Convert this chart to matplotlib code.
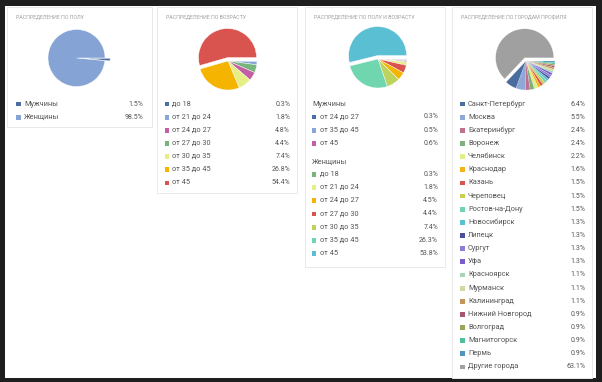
import matplotlib
matplotlib.use("Agg")
import matplotlib.pyplot as plt
from matplotlib.patches import Rectangle

plt.rcParams['font.family'] = ['Roboto', 'DejaVu Sans']

W, H = 602, 382

# ---- data ----
gender_labels = ["Мужчины", "Женщины"]
gender_values = [1.5, 98.5]
gender_colors = ["#4a6fa5", "#86a3d6"]

age_labels = ["до 18", "от 21 до 24", "от 24 до 27", "от 27 до 30", "от 30 до 35", "от 35 до 45", "от 45"]
age_values = [0.3, 1.8, 4.8, 4.4, 7.4, 26.8, 54.4]
age_colors = ["#4a6fa5", "#8aa6d8", "#c35fa5", "#78b57d", "#e6ee86", "#f4b400", "#d9534f"]

men_labels = ["от 24 до 27", "от 35 до 45", "от 45"]
men_values = [0.3, 0.5, 0.6]
men_colors = ["#4a6fa5", "#8aa6d8", "#c35fa5"]
women_labels = ["до 18", "от 21 до 24", "от 24 до 27", "от 27 до 30", "от 30 до 35", "от 35 до 45", "от 45"]
women_values = [0.3, 1.8, 4.5, 4.4, 7.4, 26.3, 53.8]
women_colors = ["#78b57d", "#e6ee86", "#f4b400", "#d9534f", "#bcd35e", "#6fd6b0", "#5bbfd4"]

city_labels = ["Санкт-Петербург", "Москва", "Екатеринбург", "Воронеж", "Челябинск", "Краснодар",
               "Казань", "Череповец", "Ростов-на-Дону", "Новосибирск", "Липецк", "Сургут", "Уфа",
               "Красноярск", "Мурманск", "Калининград", "Нижний Новгород", "Волгоград",
               "Магнитогорск", "Пермь", "Другие города"]
city_values = [6.4, 5.5, 2.4, 2.4, 2.2, 1.6, 1.5, 1.5, 1.5, 1.3, 1.3, 1.3, 1.3,
               1.1, 1.1, 1.1, 0.9, 0.9, 0.9, 0.9, 63.1]
city_colors = ["#4a6d9f", "#8fa8d8", "#c0708f", "#7fb07f", "#e2ee8a", "#f2b31e",
               "#d9534f", "#c8cf55", "#74d2b4", "#56c2cf", "#4b4f9c", "#8c7dd6", "#7a5dc6",
               "#a8d5b5", "#d3d9a0", "#c3955a", "#a85570", "#9ea35a",
               "#4fbf95", "#4f95c0", "#a0a0a0"]

titles = ["РАСПРЕДЕЛЕНИЕ ПО ПОЛУ", "РАСПРЕДЕЛЕНИЕ ПО ВОЗРАСТУ",
          "РАСПРЕДЕЛЕНИЕ ПО ПОЛУ И ВОЗРАСТУ", "РАСПРЕДЕЛЕНИЕ ПО ГОРОДАМ ПРОФИЛЯ"]

fig = plt.figure(figsize=(W / 100, H / 100), dpi=100, facecolor="#1e1e1e")
bg = fig.add_axes([0, 0, 1, 1])
bg.set_xlim(0, W)
bg.set_ylim(H, 0)
bg.axis("off")
bg.add_patch(Rectangle((5, 6), 591, 372, facecolor="white", edgecolor="none"))

# cards: x0, y0, x1, y1
cards = [(7, 7, 152, 127), (157, 7, 297, 193), (305, 7, 445, 267), (452, 7, 592, 378)]
for (x0, y0, x1, y1), t in zip(cards, titles):
    bg.add_patch(Rectangle((x0, y0), x1 - x0, y1 - y0, facecolor="white",
                           edgecolor="#e9e9e9", linewidth=0.7))
    bg.text(x0 + 9, 17, t, fontsize=3.8, color="#a0a0a0", va="center", ha="left")


def pie(cx, cy, r, values, colors, explode_big=0.12, explode_small=None, lw=0.3):
    # slices go clockwise from 3 o'clock, smallest first, biggest pulled out
    order = sorted(range(len(values)), key=lambda i: (values[i], -i))
    vals = [values[i] for i in order]
    cols = [colors[i] for i in order]
    m = max(vals)
    expl = [explode_big if v == m else 0 for v in vals]
    if explode_small is not None:
        expl = [explode_small if v != m else 0 for v in vals]
    pad = 1.3
    ax = fig.add_axes([(cx - r * pad) / W, 1 - (cy + r * pad) / H,
                       2 * r * pad / W, 2 * r * pad / H])
    ax.pie(vals, colors=cols, startangle=0, counterclock=False, explode=expl,
           wedgeprops=dict(edgecolor="white", linewidth=lw))
    ax.set_xlim(-pad, pad)
    ax.set_ylim(-pad, pad)
    ax.set_aspect("equal")
    ax.axis("off")


pie(76.5, 58, 28.5, gender_values, gender_colors, explode_small=0.18)
pie(228, 61, 29, age_values, age_colors)
pie(378, 59, 29, men_values + women_values, men_colors + women_colors)
pie(526, 61, 29, city_values, city_colors, lw=0.12)


def legend(xs, xr, ys, labels, values, colors):
    for y, lab, v, c in zip(ys, labels, values, colors):
        bg.add_patch(Rectangle((xs, y - 2.4), 4.8, 4.8, facecolor=c, edgecolor="none"))
        bg.text(xs + 8, y, lab, fontsize=5.3, color="#555555", va="center", ha="left")
        bg.text(xr, y, f"{v}%", fontsize=5.0, color="#555555", va="center", ha="right")


step = 13.15
legend(16, 143, [104 + step * i for i in range(2)], gender_labels, gender_values, gender_colors)
legend(164.5, 290, [104 + step * i for i in range(7)], age_labels, age_values, age_colors)

bg.text(312, 104, "Мужчины", fontsize=5.3, color="#555555", va="center", ha="left")
legend(311.5, 438, [117 + step * i for i in range(3)], men_labels, men_values, men_colors)
bg.text(312, 162, "Женщины", fontsize=5.3, color="#555555", va="center", ha="left")
legend(311.5, 438, [174.5 + step * i for i in range(7)], women_labels, women_values, women_colors)

legend(460, 585.5, [104 + step * i for i in range(21)], city_labels, city_values, city_colors)

fig.savefig("out.png", dpi=100, facecolor=fig.get_facecolor())
